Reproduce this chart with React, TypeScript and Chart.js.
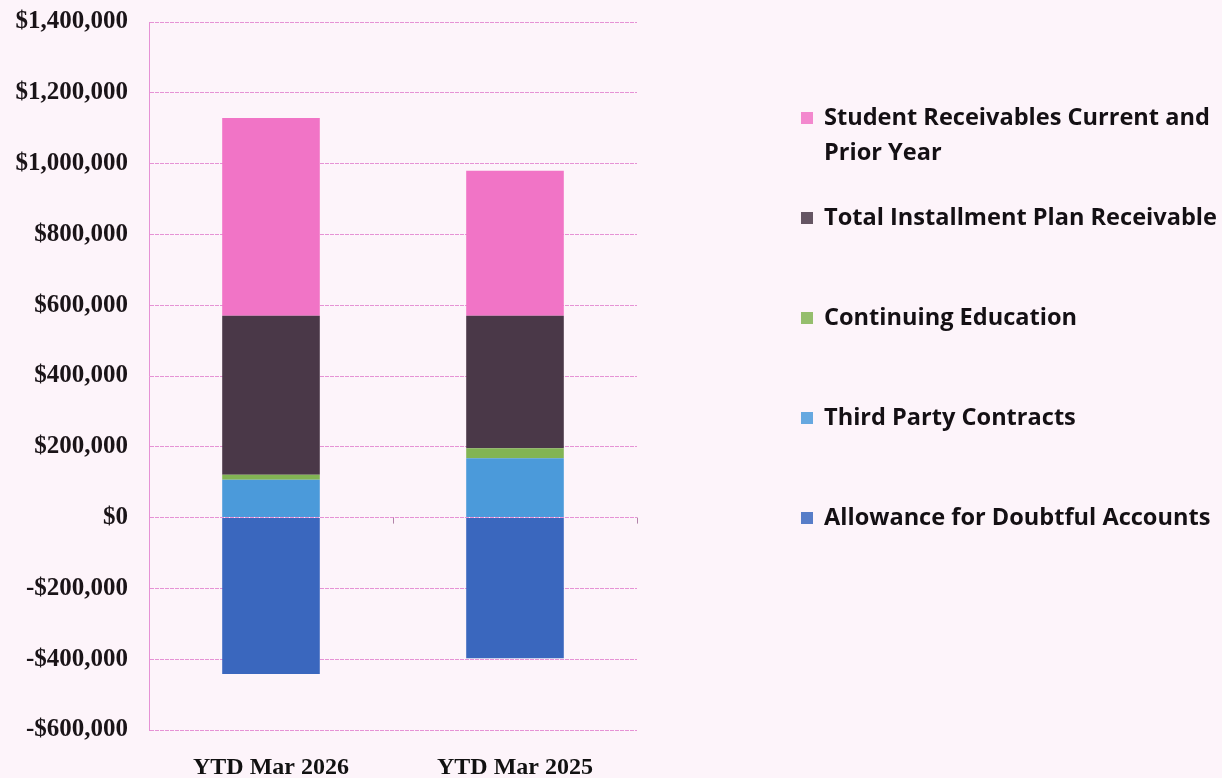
import React, { useEffect, useRef } from "react";
import { Chart, registerables } from "chart.js";

Chart.register(...registerables);

const categories = ["YTD Mar 2026", "YTD Mar 2025"];

const allowanceDoubtful = [-442000, -397000];
const thirdPartyContracts = [107000, 168000];
const continuingEducation = [14000, 28000];
const installmentPlan = [449000, 374000];
const studentReceivables = [559000, 410000];

const yMin = -600000;
const yMax = 1400000;
const yStep = 200000;

const BG = "#FDF4FA";
const GRID = "rgba(226,128,206,0.85)";
const SHIFT = 14;

const fmt = (v: number) => {
  const s = "$" + Math.abs(v).toLocaleString("en-US");
  return v < 0 ? "-" + s : s;
};

const zeroTicksPlugin = {
  id: "zeroTicks",
  afterDatasetsDraw(chart: any) {
    const { ctx, chartArea, scales } = chart;
    const y0 = scales.y.getPixelForValue(0);
    const xs = scales.x;
    const n = xs.ticks.length;
    ctx.save();
    ctx.strokeStyle = "rgba(170,120,160,0.9)";
    ctx.lineWidth = 1;
    for (let i = 0; i < n; i++) {
      const px = i < n - 1 ? (xs.getPixelForValue(i) + xs.getPixelForValue(i + 1)) / 2 : chartArea.right;
      ctx.beginPath();
      ctx.moveTo(Math.round(px) + 0.5, y0);
      ctx.lineTo(Math.round(px) + 0.5, y0 + 6);
      ctx.stroke();
    }
    ctx.restore();
  },
};

const legendPlugin = {
  id: "customLegend",
  afterDraw(chart: any) {
    const { ctx } = chart;
    const items = chart.data.datasets.slice().reverse();
    const markerX = 801;
    const textX = 824;
    const maxW = 396;
    const lineH = 35;
    ctx.save();
    ctx.font = "bold 24px 'Open Sans'";
    const ref = ctx.measureText("Total Installment Plan Receivable").width;
    const size = (24 * 393) / ref;
    ctx.font = `bold ${size.toFixed(2)}px 'Open Sans'`;
    ctx.textBaseline = "middle";
    items.forEach((ds: any, i: number) => {
      const y = 118 + SHIFT + i * 100;
      ctx.fillStyle = ds.backgroundColor;
      ctx.globalAlpha = 0.85;
      ctx.fillRect(markerX, y - 6, 12, 12);
      ctx.globalAlpha = 1;
      ctx.fillStyle = "#141014";
      const words = String(ds.label).split(" ");
      const lines: string[] = [];
      let cur = "";
      words.forEach((w) => {
        const t = cur ? cur + " " + w : w;
        if (ctx.measureText(t).width > maxW && cur) {
          lines.push(cur);
          cur = w;
        } else cur = t;
      });
      if (cur) lines.push(cur);
      lines.forEach((l, j) => ctx.fillText(l, textX, y + j * lineH));
    });
    ctx.restore();
  },
};

export default function App() {
  const ref = useRef<HTMLCanvasElement>(null);
  useEffect(() => {
    if (!ref.current) return;
    const chart = new Chart(ref.current, {
      type: "bar",
      data: {
        labels: categories,
        datasets: [
          { label: "Allowance for Doubtful Accounts", data: allowanceDoubtful, backgroundColor: "#3A67BE" },
          { label: "Third Party Contracts", data: thirdPartyContracts, backgroundColor: "#4B9ADA" },
          { label: "Continuing Education", data: continuingEducation, backgroundColor: "#82B454" },
          { label: "Total Installment Plan Receivable", data: installmentPlan, backgroundColor: "#4A3848" },
          { label: "Student Receivables Current and Prior Year", data: studentReceivables, backgroundColor: "#F174C6" },
        ],
      },
      options: {
        animation: false,
        responsive: false,
        maintainAspectRatio: false,
        layout: { padding: { top: 7, right: 585, bottom: 0, left: 0 } },
        datasets: { bar: { barPercentage: 0.8, categoryPercentage: 0.5 } },
        plugins: { legend: { display: false }, tooltip: { enabled: false } },
        scales: {
          x: {
            stacked: true,
            grid: { display: false, drawTicks: false },
            border: { display: false },
            ticks: {
              padding: 23,
              color: "#111",
              font: { family: "Liberation Serif", weight: "bold", size: 24 },
            },
            afterFit: (s: any) => {
              s.height = 48;
            },
          },
          y: {
            stacked: true,
            min: yMin,
            max: yMax,
            grid: { color: GRID, drawTicks: false, lineWidth: 1 },
            border: { display: true, color: GRID, dash: [4, 1] },
            ticks: {
              stepSize: yStep,
              padding: 21,
              color: "#1a1418",
              font: { family: "Liberation Serif", weight: "bold", size: 25 },
              callback: (v: any) => fmt(Number(v)),
            },
            afterFit: (s: any) => {
              s.width = 149;
            },
          },
        },
      },
      plugins: [zeroTicksPlugin, legendPlugin],
    });
    return () => chart.destroy();
  }, []);
  return (
    <div style={{ position: "fixed", left: 0, top: 0, width: 1222, height: 778, background: BG, overflow: "hidden" }}>
      <canvas
        ref={ref}
        width={1222}
        height={778 + SHIFT}
        style={{ display: "block", marginTop: -SHIFT }}
      />
    </div>
  );
}
